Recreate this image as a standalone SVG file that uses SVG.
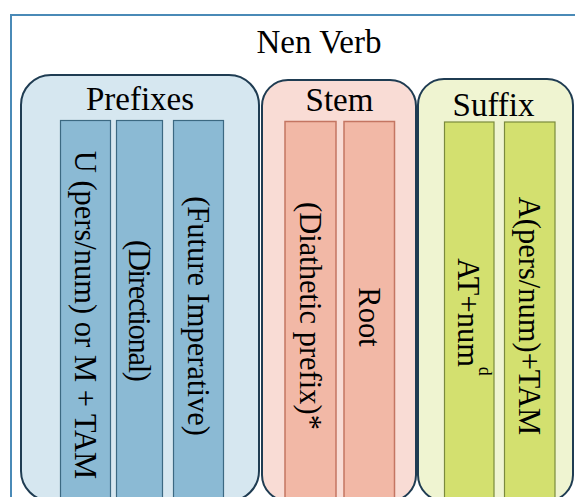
<svg xmlns="http://www.w3.org/2000/svg" width="575" height="497" viewBox="0 0 575 497" font-family="'Liberation Serif', 'DejaVu Serif', serif">
<style>
text{font-family:'Liberation Serif','DejaVu Serif',serif;fill:#000}
.title{font-size:33px;text-anchor:middle}
.vt{font-size:30.5px;text-anchor:middle}
.box{stroke:#1f3c52;stroke-width:2}
.pre{fill:#8bbad4;stroke:#3c6982;stroke-width:1.2}
.stm{fill:#f2b8a6;stroke:#c47562;stroke-width:1.5}
.suf{fill:#d3e06f;stroke:#7b8a3c;stroke-width:1.2}
</style>
<rect width="575" height="497" fill="#ffffff"/>
<g id="outer">
<rect x="11" y="15" width="600" height="520" fill="#ffffff" stroke="#4a8ab7" stroke-width="2"/>
<text class="title" x="319" y="52.5">Nen Verb</text>
</g>
<g id="prefixes">
<rect class="box" x="21" y="75" width="238" height="426" rx="30" fill="#d6e7f0"/>
<text class="title" x="140" y="110">Prefixes</text>
</g>
<g id="prefix-u">
<rect class="pre" x="60.5" y="120.5" width="50" height="400"/>
<text class="vt" transform="translate(85.5,315) rotate(90)" x="0" y="11">U (pers/num) or M + TAM</text>
</g>
<g id="prefix-directional">
<rect class="pre" x="116.5" y="120.5" width="46" height="400"/>
<text class="vt" transform="translate(139.5,311) rotate(90)" x="0" y="11" textLength="142">(Directional)</text>
</g>
<g id="prefix-future">
<rect class="pre" x="173.5" y="120.5" width="50" height="400"/>
<text class="vt" transform="translate(198.5,316) rotate(90)" x="0" y="11">(Future Imperative)</text>
</g>
<g id="stem">
<rect class="box" x="262" y="80" width="154" height="421" rx="26" fill="#f9dcd5"/>
<text class="title" x="339.5" y="110.5">Stem</text>
</g>
<g id="stem-diathetic">
<rect class="stm" x="285" y="121.5" width="51" height="400"/>
<text class="vt" transform="translate(310.5,316) rotate(90)" x="0" y="11">(Diathetic prefix)*</text>
</g>
<g id="stem-root">
<rect class="stm" x="344" y="121.5" width="50.5" height="400"/>
<text class="vt" transform="translate(369.5,317) rotate(90)" x="0" y="11">Root</text>
</g>
<g id="suffix">
<rect class="box" x="418" y="79" width="155" height="422" rx="26" fill="#eff4d1"/>
<text class="title" x="493.5" y="116">Suffix</text>
</g>
<g id="suffix-at">
<rect class="suf" x="444.5" y="122" width="49.5" height="400"/>
<text class="vt" transform="translate(469,317) rotate(90)" x="0" y="11">AT+num<tspan font-size="18" dy="-21">d</tspan></text>
</g>
<g id="suffix-a">
<rect class="suf" x="504.5" y="122" width="50.5" height="400"/>
<text class="vt" transform="translate(530,316) rotate(90)" x="0" y="11">A(pers/num)+TAM</text>
</g>
<g id="connectors"></g>
</svg>
